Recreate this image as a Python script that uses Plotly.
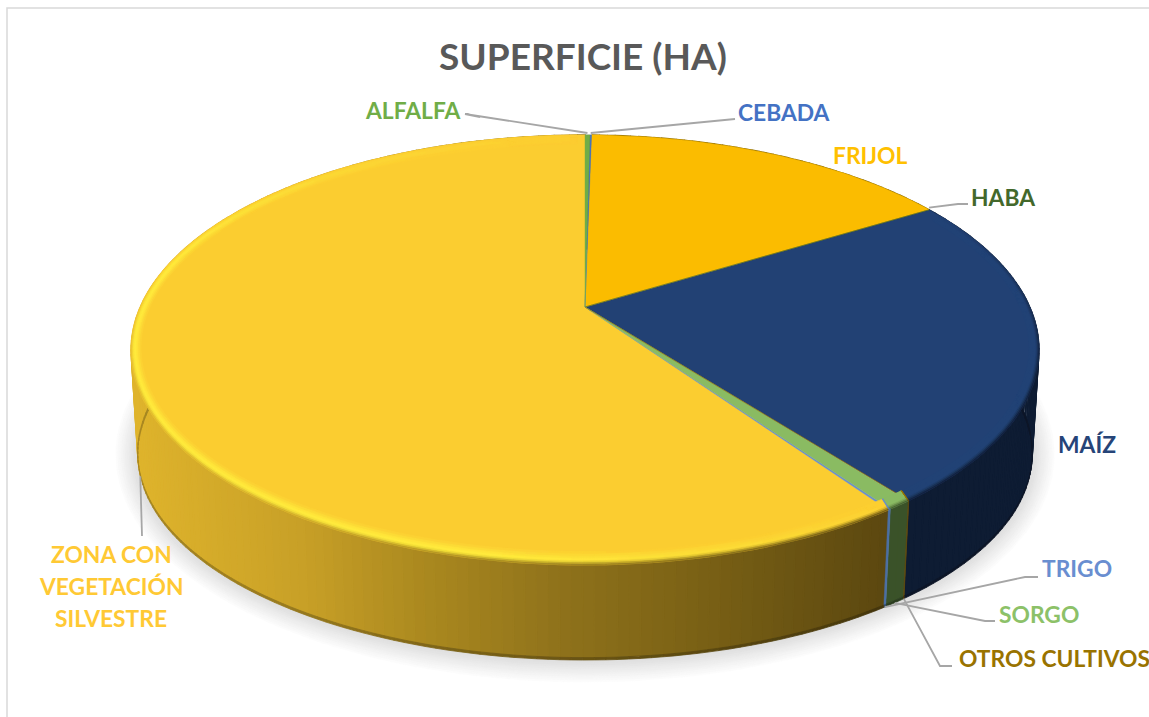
import numpy as np
import plotly.graph_objects as go

# ---------- data ----------
categories = ["ALFALFA", "CEBADA", "FRIJOL", "HABA", "MAÍZ", "OTROS CULTIVOS", "SORGO", "TRIGO",
              "ZONA CON<br>VEGETACIÓN<br>SILVESTRE"]
values = [0.21, 0.07, 16.0, 0.02, 23.2, 0.02, 0.75, 0.08, 59.65]
surface_colors = ["#70AD47", "#4472C4", "#FBBC00", "#43682B", "#224174", "#997300", "#8ABB62", "#698ED0", "#FBCD30"]
wall_colors = ["#3A5A25", "#2A4679", "#8A6A00", "#25391A", "#0E1C33", "#5E4A10", "#3A5229", "#4A6FA5", None]
label_colors = ["#70AD47", "#4472C4", "#FFC000", "#43682B", "#264478", "#997300", "#8CC168", "#698ED0", "#FFC934"]
title_text = "SUPERFICIE (HA)"

# ---------- style / layout ----------
W, H = 1149, 717
AX, AY = 585.0, 307.0            # apex of the pie on screen
A, B, K = 444.8, 206.4, 0.20     # perspective of the disc
FONT = "Lato, Carlito, Calibri, sans-serif"
label_pos = [(412, 110), (784, 112), (870, 155), (1003, 197), (1087, 444),
             (1054, 658), (1039, 614), (1077, 568), (111, 586)]
ZONE_LINE_GAP = 32
elbows = {
    0: [(465, 114), (480, 117)],
    1: [(722, 120), (735, 119)],
    3: [(958, 204), (968, 204)],
    5: [(940, 666), (952, 666)],
    6: [(985, 621), (995, 621)],
    7: [(1025, 577), (1038, 577)],
    8: [(142, 536)],
}
on_top = {0, 1, 3}


def top_pt(theta):
    u, v = np.sin(theta), np.cos(theta)
    d = 1 + K * v
    return A * u / d, -B * v / d


def bottom_pt(theta):
    x, y = top_pt(theta)
    return AX + 0.985 * x, AY + 0.955 * y + 106.6


def hex2rgb(c):
    return np.array([int(c[i:i + 2], 16) for i in (1, 3, 5)], float)


def mix(a, b, t):
    return a + (b - a) * t


def tohex(c, q=1):
    c = np.clip(np.round(np.asarray(c) / q) * q, 0, 255).astype(int)
    return "#%02X%02X%02X" % tuple(c)


zx = [130, 300, 420, 560, 700, 885]
zc = np.array([hex2rgb(c) for c in ["#DFB42C", "#C8A027", "#AB891F", "#8F721B", "#7A6115", "#5C4810"]])


def wall_rgb(i, x):
    if wall_colors[i] is None:
        return np.array([np.interp(x, zx, zc[:, j]) for j in range(3)])
    return hex2rgb(wall_colors[i])


polys = {}


def add_poly(layer, color, xs, ys):
    xl, yl = polys.setdefault((layer, color), ([], []))
    xl.extend(np.round(xs, 1).tolist() + [xs[0], None])
    yl.extend(np.round(ys, 1).tolist() + [ys[0], None])


# shadow
for n, g in enumerate(np.linspace(252, 222, 12)):
    grow = 22 - n * 1.9
    th = np.linspace(0, 2 * np.pi, 240)
    bx, by = bottom_pt(th)
    cy = AY + 148
    sx = AX + (bx - AX) * (1 + grow / 447)
    sy = cy + (by - cy) * (1 + grow / 205)
    add_poly(n, tohex([g, g, g]), sx, sy)

total = sum(values)
edges = np.cumsum([0] + values) / total * 2 * np.pi
HI_TH = [0, 140, 190, 280, 320, 360]
HI_V = [0, 0, 1, 1, 0.35, 0]
DK_TH = [0, 60, 110, 250, 282, 360]
DK_V = [0, 0, 1, 1, 0, 0]
bright = hex2rgb("#FFEE3C")

WALL, WALL_THIN, FOOT = 20, 21, 22
SURF, SURF_THIN, RIM = 30, 31, 40
line_w = {WALL: 1.3, WALL_THIN: 0.5, FOOT: 0.8, SURF: 0.6, SURF_THIN: 0.4, RIM: 0.7}
bands = np.array([0, .12, .24, .36, .5, .65, .82, 1.0])
for i in range(len(values)):
    t0, t1 = edges[i], edges[i + 1]
    thin = (t1 - t0) < .1
    nseg = max(2, int((t1 - t0) / np.radians(1.2)))
    ths = np.linspace(t0, t1, nseg + 1)
    base = hex2rgb(surface_colors[i])
    # walls
    for a, b in zip(ths[:-1], ths[1:]):
        xa, ya = top_pt(a); xb, yb = top_pt(b)
        pa = bottom_pt(a); pb = bottom_pt(b)
        xm = AX + (xa + xb) / 2
        wc = wall_rgb(i, xm)
        tx = [AX + xa, AX + xb]; ty = [AY + ya, AY + yb]
        mxa, mya = mix(tx[0], pa[0], .975), mix(ty[0], pa[1], .975)
        mxb, myb = mix(tx[1], pb[0], .975), mix(ty[1], pb[1], .975)
        add_poly(WALL_THIN if thin else WALL, tohex(wc), [tx[0], tx[1], mxb, mxa], [ty[0], ty[1], myb, mya])
        add_poly(FOOT, tohex(wc * .75, 3), [mxa, mxb, pb[0], pa[0]], [mya, myb, pb[1], pa[1]])
    # top surface
    sx, sy = top_pt(ths)
    add_poly(SURF_THIN if thin else SURF, tohex(base), np.r_[AX, AX + sx], np.r_[AY, AY + sy])
    # bevelled rim
    for a, b in zip(ths[:-1], ths[1:]):
        deg = np.degrees((a + b) / 2)
        h = np.interp(deg, HI_TH, HI_V)
        d = np.interp(deg, DK_TH, DK_V)
        if h + d < .01:
            continue
        xa, ya = top_pt(a); xb, yb = top_pt(b)
        wc = wall_rgb(i, AX + (xa + xb) / 2)
        yellow = i in (2, 8)
        hl = mix(base, bright if yellow else base, h)
        dark = mix(base, wc, d)
        for w0, w1 in zip(bands[:-1], bands[1:]):
            w = (w0 + w1) / 2
            c = mix(dark, hl, w / .36) if w < .36 else mix(hl, base, (w - .36) / .64)
            fx, fy = .022, .052
            add_poly(RIM, tohex(c, 3),
                     [AX + xa * (1 - fx * w0), AX + xb * (1 - fx * w0), AX + xb * (1 - fx * w1), AX + xa * (1 - fx * w1)],
                     [AY + ya * (1 - fy * w0), AY + yb * (1 - fy * w0), AY + yb * (1 - fy * w1), AY + ya * (1 - fy * w1)])

fig = go.Figure()
for key in sorted(polys):
    xl, yl = polys[key]
    fig.add_trace(go.Scatter(x=xl, y=yl, mode="lines", fill="toself", fillcolor=key[1],
                             line=dict(color=key[1], width=line_w.get(key[0], 0.6)),
                             hoverinfo="skip", showlegend=False))

# leader lines start at the middle of their slice
for i, pts in elbows.items():
    mid = (edges[i] + edges[i + 1]) / 2
    if i in on_top:
        x0, y0 = top_pt(mid)
        start = (AX + x0, AY + y0 - 2)
    else:
        start = bottom_pt(mid)
    xs = [start[0]] + [p[0] for p in pts]
    ys = [start[1]] + [p[1] for p in pts]
    fig.add_trace(go.Scatter(x=xs, y=ys, mode="lines", line=dict(color="#A6A6A6", width=1.8),
                             hoverinfo="skip", showlegend=False))

# chart frame
fig.add_trace(go.Scatter(x=[7, 7, W], y=[H, 8, 8], mode="lines", line=dict(color="#D9D9D9", width=1.5),
                         hoverinfo="skip", showlegend=False))

annotations = [dict(x=582.5, y=55, text="<b>%s</b>" % title_text, showarrow=False,
                    font=dict(family=FONT, size=37, color="#595959"))]
for name, col, (x, y) in zip(categories, label_colors, label_pos):
    lines = name.split("<br>")
    for n, line in enumerate(lines):
        yy = y + (n - (len(lines) - 1) / 2) * ZONE_LINE_GAP
        annotations.append(dict(x=x, y=yy, text="<b>%s</b>" % line, showarrow=False,
                                font=dict(family=FONT, size=22.8, color=col)))

fig.update_layout(width=W, height=H, margin=dict(l=0, r=0, t=0, b=0),
                  paper_bgcolor="white", plot_bgcolor="white", showlegend=False,
                  xaxis=dict(range=[0, W], visible=False, fixedrange=True),
                  yaxis=dict(range=[H, 0], visible=False, fixedrange=True),
                  annotations=annotations)
fig.write_html("out.html", config={"displayModeBar": False},
               post_script="document.body.style.margin='0';document.body.style.overflow='hidden';")
